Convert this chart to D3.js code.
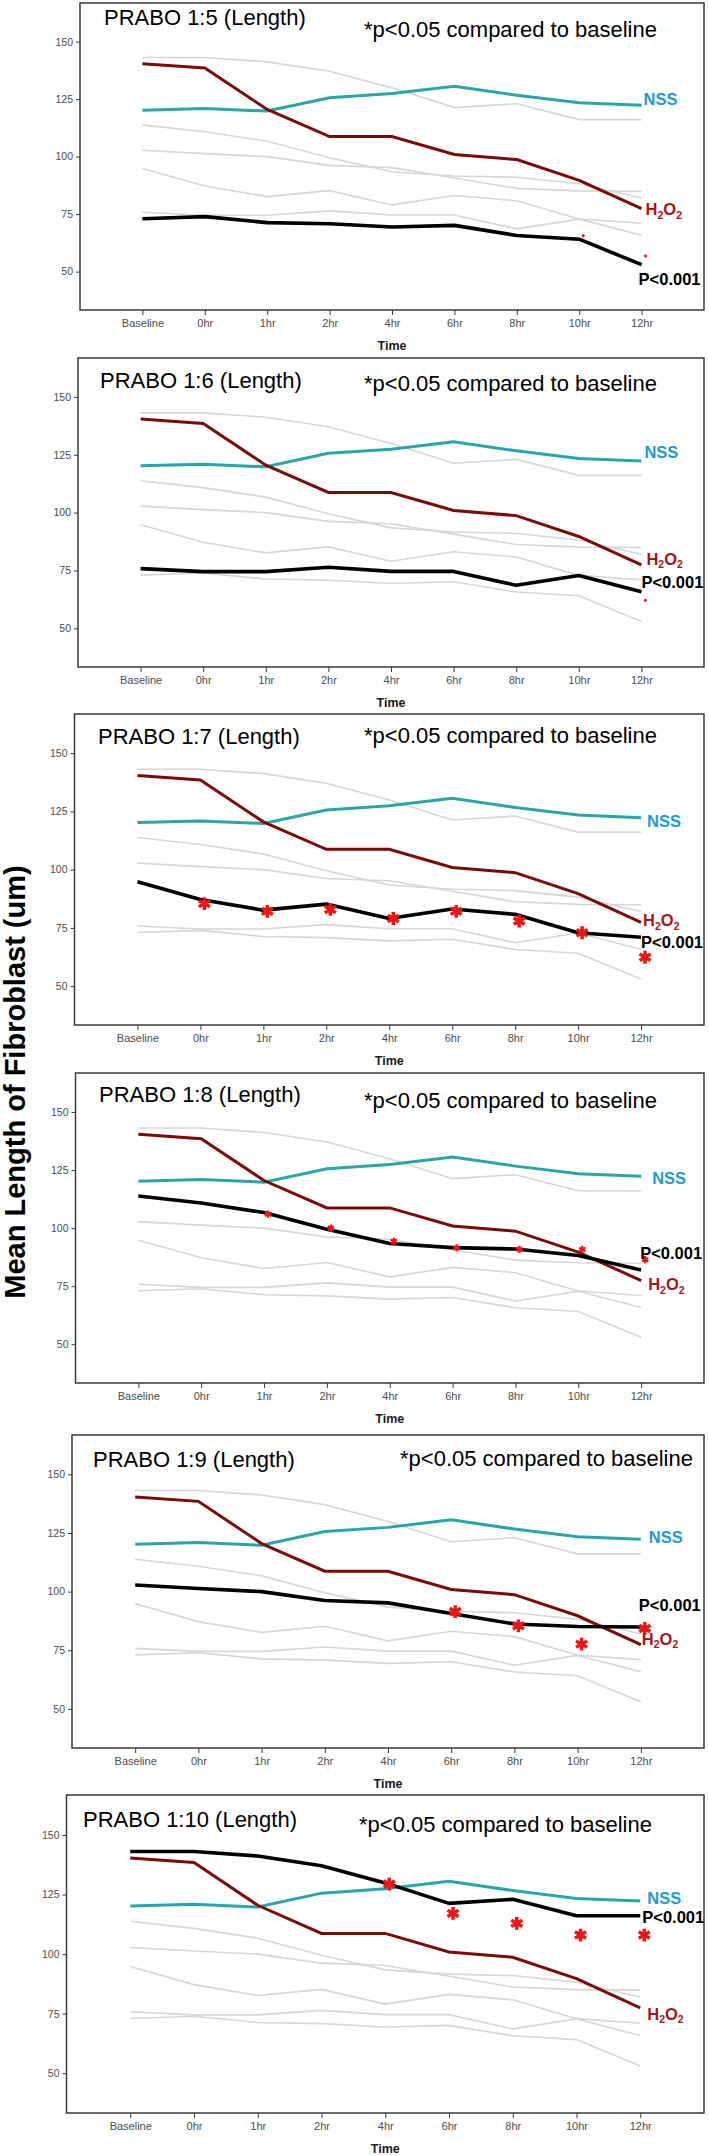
<!DOCTYPE html>
<html><head><meta charset="utf-8">
<script src="https://cdn.jsdelivr.net/npm/d3@7"></script>
<style>body{margin:0;background:#fff;} svg{display:block;}</style>
</head><body>
<svg id="chart" width="709" height="2156"></svg>
<script>
// ---------- DATA ----------
const times = ["Baseline","0hr","1hr","2hr","4hr","6hr","8hr","10hr","12hr"];
const yTicks = [50, 75, 100, 125, 150];
const nssVals  = [120.2, 120.9, 119.8, 125.6, 127.4, 130.6, 126.7, 123.4, 122.3];
const h2o2Vals = [140.4, 138.5, 120.5, 108.7, 108.7, 100.9, 98.7, 89.7, 77.4];
const r15  = [73.0, 73.9, 71.3, 70.8, 69.4, 70.1, 65.7, 64.1, 53.0];
const r16  = [75.8, 74.5, 74.5, 76.4, 74.6, 74.6, 68.6, 72.8, 65.8];
const r17  = [94.8, 87.2, 82.6, 85.2, 79.0, 83.1, 80.8, 72.9, 71.0];
const r18  = [113.8, 110.8, 106.7, 99.5, 93.4, 91.6, 91.0, 88.2, 82.0];
const r19  = [102.8, 101.3, 100.0, 96.2, 95.2, 90.7, 86.2, 85.1, 84.9];
const r110 = [143.1, 143.1, 141.2, 137.1, 129.9, 121.3, 123.0, 116.1, 116.1];
const ratioSeries = [r15, r16, r17, r18, r19, r110];
const panelTitles = ["PRABO 1:5 (Length)","PRABO 1:6 (Length)","PRABO 1:7 (Length)",
                     "PRABO 1:8 (Length)","PRABO 1:9 (Length)","PRABO 1:10 (Length)"];
const noteText = "*p<0.05 compared to baseline";
const pText = "P<0.001";
const nssText = "NSS";
const xTitle = "Time";
const yTitle = "Mean Length of Fibroblast (um)";
// significance markers (time, value)
const sigTimes = [
  ["10hr","12hr"],
  ["12hr"],
  ["0hr","1hr","2hr","4hr","6hr","8hr","10hr","12hr"],
  ["1hr","2hr","4hr","6hr","8hr","10hr","12hr"],
  ["6hr","8hr","10hr","12hr"],
  ["4hr","6hr","8hr","10hr","12hr"]
];
const sigVals = [
  [65.6, 56.8],
  [62.1],
  [85.4, 82.1, 82.9, 79.0, 82.1, 77.9, 72.9, 62.4],
  [106.0, 100.0, 94.3, 91.5, 90.8, 90.8, 86.4],
  [91.5, 85.4, 77.6, 84.3],
  [129.4, 117.1, 112.9, 108.0, 108.0]
];
// end-label anchor values (data units)
const nssLabelVals  = [125.0, 126.2, 120.7, 121.7, 123.4, 123.6];
const h2o2LabelVals = [77.2, 80.0, 78.3, 75.9, 79.8, 75.0];
const pLabelVals    = [46.7, 70.1, 69.0, 89.4, 94.5, 115.6];

// ---------- LAYOUT / STYLE ----------
const FONT = "'Liberation Sans', Arial, Helvetica, sans-serif";
const yDomain = [33.3, 166.8];
const frameRight = 704;
const layout = [
  {top:3,    bottom:310,  left:80,   titleX:104, titleY:25,   noteX:364, noteY:37,   star:{r:1.4, w:1.8}, nssDx:2, h2Dx:4, pDx:-3},
  {top:358,  bottom:667,  left:78,   titleX:100, titleY:388,  noteX:364, noteY:391,  star:{r:1.4, w:1.8}, nssDx:3, h2Dx:5, pDx:0},
  {top:714,  bottom:1025, left:74.5, titleX:98,  titleY:744,  noteX:364, noteY:743,  star:{r:6.4, w:3.5}, nssDx:6, h2Dx:2, pDx:0},
  {top:1073, bottom:1383, left:75.5, titleX:99,  titleY:1102, noteX:364, noteY:1108, star:{r:3.6, w:2.2}, nssDx:11, h2Dx:7, pDx:-1},
  {top:1435, bottom:1748, left:72,   titleX:93,  titleY:1467, noteX:400, noteY:1466, star:{r:6.4, w:3.5}, nssDx:8, h2Dx:1, pDx:-2},
  {top:1795, bottom:2113, left:66.5, titleX:83,  titleY:1827, noteX:359, noteY:1832, star:{r:6.4, w:3.5}, nssDx:7, h2Dx:7, pDx:2}
];
const C = {frame:"#3a3a3a", tick:"#4d4d4d", grey:"#d6d6d6", nss:"#2aa6a8", nssLbl:"#1f9ad6",
           h2o2:"#7d0a0a", h2o2Lbl:"#a3161a", black:"#000", star:"#f01414"};
const LBL = 16.5;

const svg = d3.select("#chart");

layout.forEach((L, i) => {
  const g = svg.append("g");
  const x = d3.scalePoint().domain(times).range([L.left, frameRight]).padding(1);
  const y = d3.scaleLinear().domain(yDomain).range([L.bottom, L.top]);
  const line = d3.line().x((d, j) => x(times[j])).y(d => y(d));

  // frame
  g.append("rect").attr("x", L.left).attr("y", L.top)
    .attr("width", frameRight - L.left).attr("height", L.bottom - L.top)
    .attr("fill", "none").attr("stroke", C.frame).attr("stroke-width", 1.5);

  // axes
  const ya = g.append("g").attr("transform", `translate(${L.left},0)`)
    .call(d3.axisLeft(y).tickValues(yTicks).tickSize(4).tickPadding(3));
  ya.select(".domain").remove();
  ya.selectAll("line").attr("stroke", C.frame);
  ya.selectAll("text").attr("font-family", FONT).attr("font-size", 10.5).attr("fill", C.tick);

  const xa = g.append("g").attr("transform", `translate(0,${L.bottom})`)
    .call(d3.axisBottom(x).tickSize(5).tickPadding(4));
  xa.select(".domain").remove();
  xa.selectAll("line").attr("stroke", C.frame);
  xa.selectAll("text").attr("font-family", FONT).attr("font-size", 11).attr("fill", C.tick);

  // grey reference lines
  g.selectAll("path.grey").data(ratioSeries).enter().append("path").attr("class", "grey")
    .attr("d", line).attr("fill", "none").attr("stroke", C.grey).attr("stroke-width", 1.6);

  // NSS, H2O2, ratio line
  g.append("path").datum(nssVals).attr("d", line).attr("fill", "none")
    .attr("stroke", C.nss).attr("stroke-width", 3);
  g.append("path").datum(h2o2Vals).attr("d", line).attr("fill", "none")
    .attr("stroke", C.h2o2).attr("stroke-width", 3);
  g.append("path").datum(ratioSeries[i]).attr("d", line).attr("fill", "none")
    .attr("stroke", C.black).attr("stroke-width", 3.6).attr("stroke-linejoin", "round");

  // significance markers
  const r = L.star.r;
  const size = Math.pow(r / 0.59436, 2);
  const sym = d3.symbol().type(d3.symbolAsterisk).size(size);
  g.selectAll("path.star").data(sigTimes[i].map((t, k) => ({t, v: sigVals[i][k]})))
    .enter().append("path").attr("class", "star")
    .attr("d", sym)
    .attr("transform", d => `translate(${x(d.t) + 4},${y(d.v)})`)
    .attr("fill", "none").attr("stroke", C.star).attr("stroke-width", L.star.w);

  const xEnd = x(times[times.length - 1]);
  // labels
  g.append("text").attr("x", xEnd + L.nssDx).attr("y", y(nssLabelVals[i]) + 6)
    .attr("font-family", FONT).attr("font-weight", "bold").attr("font-size", LBL)
    .attr("fill", C.nssLbl).text(nssText);
  g.append("text").attr("x", xEnd + L.pDx).attr("y", y(pLabelVals[i]) + 6)
    .attr("font-family", FONT).attr("font-weight", "bold").attr("font-size", LBL)
    .attr("fill", C.black).text(pText);
  const h = g.append("text").attr("x", xEnd + L.h2Dx).attr("y", y(h2o2LabelVals[i]) + 6)
    .attr("font-family", FONT).attr("font-weight", "bold").attr("font-size", LBL)
    .attr("fill", C.h2o2Lbl);
  h.append("tspan").text("H");
  h.append("tspan").attr("font-size", 10.5).attr("dy", 3.5).text("2");
  h.append("tspan").attr("dy", -3.5).text("O");
  h.append("tspan").attr("font-size", 10.5).attr("dy", 3.5).text("2");

  // titles
  g.append("text").attr("x", L.titleX).attr("y", L.titleY)
    .attr("font-family", FONT).attr("font-size", 22).attr("fill", "#000").text(panelTitles[i]);
  g.append("text").attr("x", L.noteX).attr("y", L.noteY)
    .attr("font-family", FONT).attr("font-size", 22).attr("fill", "#000").text(noteText);

  // x title
  g.append("text").attr("x", x("4hr")).attr("y", L.bottom + 39.5).attr("text-anchor", "middle")
    .attr("font-family", FONT).attr("font-weight", "bold").attr("font-size", 12.5)
    .attr("fill", "#1a1a1a").text(xTitle);
});

// y-axis title
svg.append("text").attr("transform", "translate(25,1082) rotate(-90)")
  .attr("text-anchor", "middle").attr("font-family", FONT).attr("font-weight", "bold")
  .attr("font-size", 29).attr("fill", "#000").text(yTitle);
</script>
</body></html>
